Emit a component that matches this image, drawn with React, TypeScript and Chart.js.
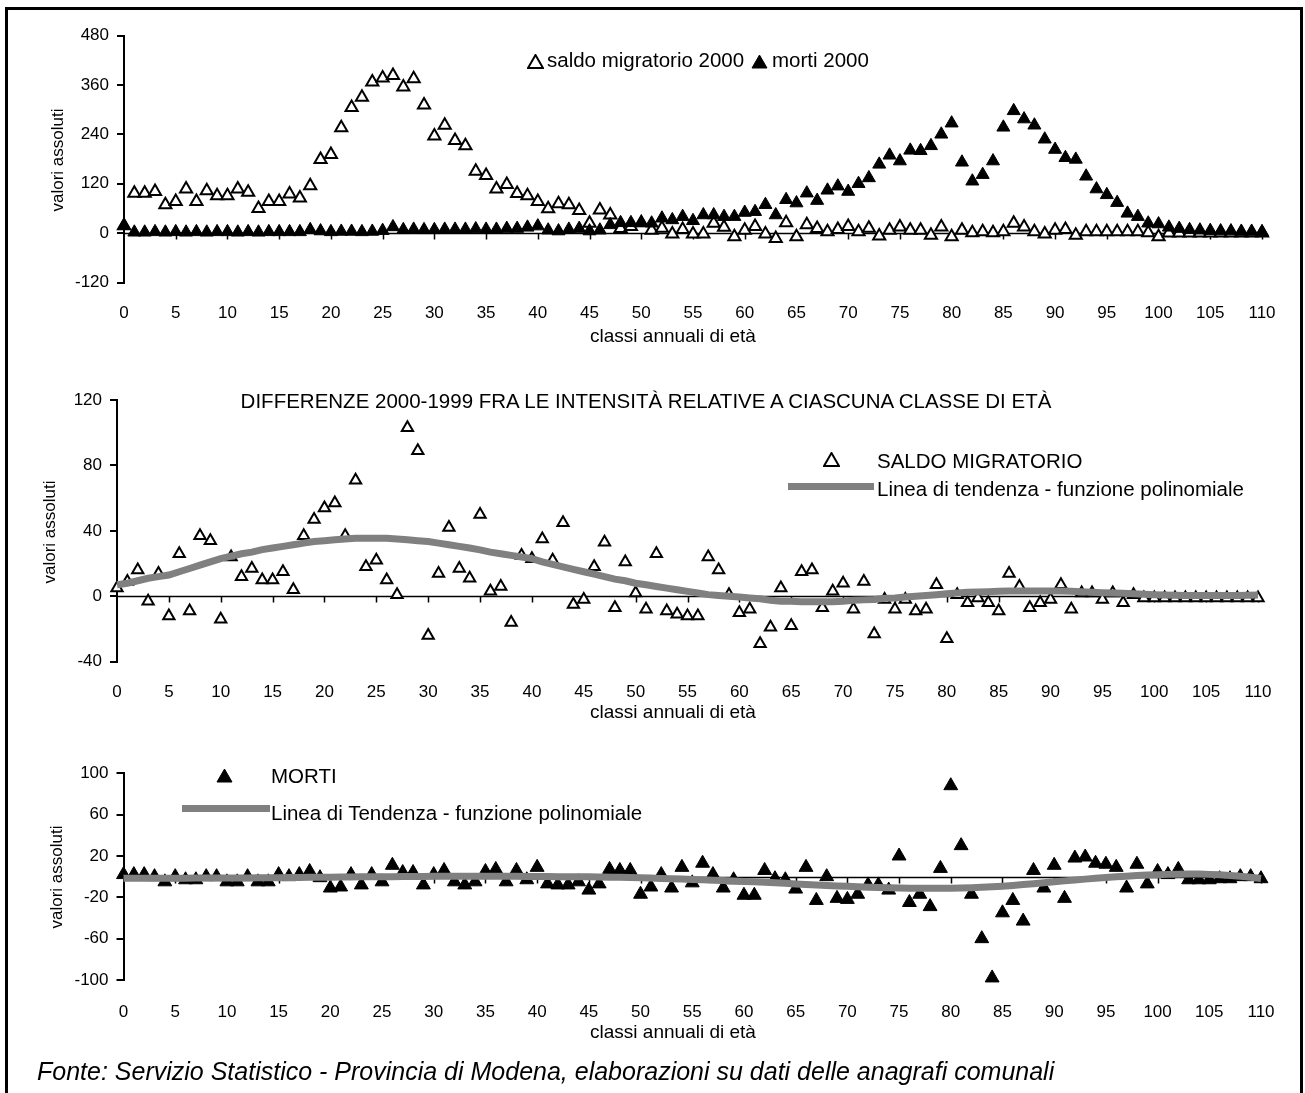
import React, { useEffect, useRef } from 'react';
import { Chart, registerables } from 'chart.js';

Chart.register(...registerables);

const FONT = '"Liberation Sans", Arial, Helvetica, sans-serif';

// age classes 0..110
const AGES: number[] = Array.from({ length: 111 }, (_, i) => i);

// Top panel: saldo migratorio 2000 (open triangles)
const SALDO_2000 = [
  18, 97, 97, 101, 69, 77, 107, 77, 103, 91, 91, 107, 99, 60, 77, 77, 95, 85, 115, 179,
  191, 256, 305, 330, 367, 377, 383, 355, 375, 311, 236, 262, 225, 212, 150, 140, 107, 118, 96, 91,
  77, 59, 71, 69, 55, 24, 56, 44, 11, 16, 25, 7, 12, -2, 9, -2, -2, 24, 14, -9,
  7, 16, -2, -13, 25, -9, 20, 11, 3, 9, 16, 3, 12, -7, 7, 15, 7, 7, -5, 15,
  -9, 7, 1, 3, 1, 3, 24, 15, 3, -2, 7, 9, -5, 3, 3, 3, 3, 3, 3, 1,
  -9, 0, 0, 0, 0, 0, 0, 0, 0, 0, 0,
];

// Top panel: morti 2000 (filled triangles)
const MORTI_2000 = [
  18, 2, 2, 3, 2, 3, 2, 3, 2, 3, 3, 2, 3, 2, 3, 3, 3, 3, 8, 5,
  3, 4, 4, 3, 4, 6, 15, 8, 9, 8, 8, 9, 9, 9, 10, 9, 9, 11, 11, 14,
  17, 7, 5, 9, 11, 5, 7, 20, 25, 25, 25, 24, 36, 32, 40, 30, 44, 44, 40, 40,
  50, 52, 69, 44, 81, 73, 97, 79, 104, 114, 101, 120, 134, 167, 189, 175, 201, 200, 212, 240,
  267, 172, 126, 142, 175, 257, 297, 277, 262, 228, 203, 183, 179, 138, 107, 93, 74, 48, 40, 24,
  22, 14, 11, 8, 7, 6, 5, 5, 4, 4, 3,
];

// Middle panel: differenze saldo migratorio 2000-1999
const DIFF_SALDO = [
  5, 9, 16, -3, 14, -12, 26, -9, 37, 34, -14, 24, 12, 17, 10, 10, 15, 4, 37, 47,
  54, 57, 37, 71, 18, 22, 10, 1, 103, 89, -24, 14, 42, 17, 11, 50, 3, 6, -16, 25,
  23, 35, 22, 45, -5, -2, 18, 33, -7, 21, 2, -8, 26, -9, -11, -12, -12, 24, 16, 1,
  -10, -8, -29, -19, 5, -18, 15, 16, -7, 3, 8, -8, 9, -23, -2, -8, -2, -9, -8, 7,
  -26, 1, -4, -1, -4, -9, 14, 6, -7, -4, -2, 7, -8, 2, 2, -2, 2, -4, 1, -1,
  -1, -1, -1, -1, -1, -1, -1, -1, -1, -1, -1,
];

// Middle panel: polynomial trend line
const DIFF_SALDO_TREND = [
  7, 8, 9.5, 11, 12, 13, 15, 17, 19, 21, 23, 24.5, 26, 27, 28.5, 29.5, 30.5, 31.5, 32.5, 33.5,
  34, 34.5, 35, 35.5, 35.5, 35.5, 35.5, 35, 34.5, 34, 33.5, 32.5, 31.5, 30.5, 29.5, 28.4, 27, 26, 25, 24,
  23, 21, 19.5, 18, 16.5, 15, 13.5, 12, 10.5, 9.5, 8, 7, 6, 5, 4, 3, 2, 1, 0.5, 0,
  -0.5, -1, -1.5, -2.5, -3, -3, -3.3, -3.3, -3.3, -3.3, -3, -2.5, -2.2, -2, -1.2, -1, -0.5, 0, 0.5, 1,
  1.5, 2, 2.4, 2.6, 2.8, 3, 3.2, 3.3, 3.3, 3.3, 3.3, 3.2, 3, 2.8, 2.5, 2.2, 2, 1.8, 1.5, 1.2,
  1, 0.8, 0.6, 0.5, 0.4, 0.4, 0.4, 0.4, 0.5, 0.6, 0.8,
];

// Bottom panel: differenze morti 2000-1999
const DIFF_MORTI = [
  2, 2, 2, 0, -5, 0, -3, -3, 0, 0, -5, -5, 0, -5, -5, 2, 0, 2, 5, -1,
  -11, -10, 2, -8, 2, -5, 11, 4, 4, -8, 2, 6, -5, -8, -5, 5, 7, -5, 6, -3,
  9, -7, -8, -8, -5, -13, -7, 7, 6, 6, -17, -10, 2, -11, 9, -6, 13, 2, -11, -3,
  -18, -18, 6, -2, -3, -12, 9, -23, 0, -21, -22, -17, -8, -8, -13, 20, -25, -17, -29, 8,
  88, 30, -17, -60, -98, -35, -23, -43, 6, -11, 11, -21, 18, 19, 13, 12, 9, -11, 12, -7,
  5, 2, 7, -3, -3, -3, -2, -2, 0, 0, -2,
];

// Bottom panel: polynomial trend line
const DIFF_MORTI_TREND = [
  -1.5, -1.5, -1.5, -1.5, -1.5, -1.5, -1.5, -1.4, -1.4, -1.3, -1.3, -1.2, -1.2, -1.1, -1, -1, -0.9, -0.8, -0.7, -0.6,
  -0.5, -0.4, -0.3, -0.2, -0.1, 0, 0, 0.1, 0.2, 0.2, 0.3, 0.3, 0.3, 0.3, 0.3, 0.3, 0.3, 0.3, 0.3, 0.2,
  0.2, 0.1, 0, 0, -0.1, -0.2, -0.3, -0.5, -0.7, -0.9, -1.1, -1.4, -1.7, -2, -2.3, -2.7, -3, -3.4, -3.8, -4.2,
  -4.6, -5, -5.5, -6, -6.5, -7, -7.5, -8, -8.5, -9, -9.4, -9.8, -10.2, -10.5, -10.8, -11, -11.2, -11.3, -11.3, -11.3,
  -11.2, -11, -10.7, -10.3, -9.8, -9.2, -8.5, -7.7, -6.9, -6, -5, -4.1, -3.2, -2.4, -1.6, -0.8, -0.1, 0.5, 1, 1.5,
  1.9, 2.2, 2.4, 2.5, 2.5, 2.2, 1.8, 1.2, 0.4, -0.6, -1.8,
];

const TOP_Y = [-120, 480, 120];
const MID_Y = [-40, 120, 40];
const BOT_Y = [-100, 100, 40];
const X_RANGE = [0, 110, 5];

const W = 1305;

const toXY = (vals: number[]) => AGES.map((a, i) => ({ x: a, y: vals[i] }));

const zeroLine = {
  id: 'zeroLine',
  beforeDatasetsDraw(chart: any) {
    const { ctx, chartArea, scales } = chart;
    const x = scales.x;
    const y = scales.y;
    const py = Math.round(y.getPixelForValue(0)) + 0.5;
    ctx.save();
    ctx.strokeStyle = '#000';
    ctx.lineWidth = 1.5;
    ctx.beginPath();
    ctx.moveTo(chartArea.left, py);
    ctx.lineTo(chartArea.right, py);
    for (let v = X_RANGE[0] + X_RANGE[2]; v <= X_RANGE[1]; v += X_RANGE[2]) {
      const px = Math.round(x.getPixelForValue(v)) + 0.5;
      ctx.moveTo(px, py);
      ctx.lineTo(px, py + 6);
    }
    ctx.stroke();
    ctx.restore();
  },
};

type PanelCfg = {
  top: number;
  height: number;
  area: { left: number; right: number; top: number; bottom: number };
  yr: number[];
  labelCenter: number;
  datasets: any[];
};

function buildChart(canvas: HTMLCanvasElement, cfg: PanelCfg) {
  const xH = 40;
  const padTop = cfg.area.top - cfg.top;
  const padRight = W - cfg.area.right;
  const padBottom = cfg.top + cfg.height - cfg.area.bottom - xH;
  const tickFont = { family: FONT, size: 17 };
  const xPad = cfg.labelCenter - cfg.area.bottom - 10.2;
  return new Chart(canvas, {
    type: 'scatter',
    data: { datasets: cfg.datasets },
    options: {
      responsive: false,
      animation: false,
      devicePixelRatio: 1,
      layout: { padding: { left: 0, top: padTop, right: padRight, bottom: padBottom } },
      plugins: { legend: { display: false }, tooltip: { enabled: false } },
      scales: {
        x: {
          type: 'linear',
          position: 'bottom',
          min: X_RANGE[0],
          max: X_RANGE[1],
          grid: { display: false, drawTicks: false },
          border: { display: false },
          ticks: {
            stepSize: X_RANGE[2],
            autoSkip: false,
            maxRotation: 0,
            padding: xPad,
            color: '#000',
            font: tickFont,
          },
          afterFit: (s: any) => {
            s.height = xH;
          },
        },
        y: {
          type: 'linear',
          position: 'left',
          min: cfg.yr[0],
          max: cfg.yr[1],
          grid: { display: true, drawOnChartArea: false, drawTicks: true, tickLength: 7, color: '#000', lineWidth: 2 },
          border: { display: true, color: '#000', width: 2 },
          ticks: { stepSize: cfg.yr[2], autoSkip: false, padding: 8, color: '#000', font: tickFont },
          afterFit: (s: any) => {
            s.width = cfg.area.left;
          },
        },
      },
    } as any,
    plugins: [zeroLine],
  });
}

const openTri = (r: number) => ({
  pointStyle: 'triangle',
  pointRadius: r,
  pointBackgroundColor: '#fff',
  pointBorderColor: '#000',
  pointBorderWidth: 2,
  showLine: false,
  clip: false,
});
const fullTri = (r: number) => ({
  pointStyle: 'triangle',
  pointRadius: r,
  pointBackgroundColor: '#000',
  pointBorderColor: '#000',
  pointBorderWidth: 1,
  showLine: false,
  clip: false,
});
const trend = {
  showLine: true,
  pointRadius: 0,
  borderColor: '#808080',
  borderWidth: 7,
  borderCapStyle: 'butt',
  tension: 0,
  clip: false,
};

const PANELS: PanelCfg[] = [
  {
    top: 0,
    height: 345,
    area: { left: 124, right: 1262, top: 35.5, bottom: 282.5 },
    yr: TOP_Y,
    labelCenter: 313,
    datasets: [
      { label: 'morti 2000', data: toXY(MORTI_2000), order: 0, ...fullTri(7.5) },
      { label: 'saldo migratorio 2000', data: toXY(SALDO_2000), order: 1, ...openTri(7) },
    ],
  },
  {
    top: 345,
    height: 385,
    area: { left: 117, right: 1258, top: 400, bottom: 661.7 },
    yr: MID_Y,
    labelCenter: 692,
    datasets: [
      { label: 'Linea di tendenza - funzione polinomiale', data: toXY(DIFF_SALDO_TREND), order: 0, ...trend },
      { label: 'SALDO MIGRATORIO', data: toXY(DIFF_SALDO), order: 1, ...openTri(6.5) },
    ],
  },
  {
    top: 730,
    height: 320,
    area: { left: 123.5, right: 1261, top: 773.3, bottom: 980 },
    yr: BOT_Y,
    labelCenter: 1012,
    datasets: [
      { label: 'Linea di Tendenza - funzione polinomiale', data: toXY(DIFF_MORTI_TREND), order: 0, ...trend },
      { label: 'MORTI', data: toXY(DIFF_MORTI), order: 1, ...fullTri(8) },
    ],
  },
];

const txt = (left: number, cy: number, size: number, extra: any = {}): React.CSSProperties => ({
  position: 'absolute',
  left,
  top: cy - size * 0.6,
  height: size * 1.2,
  lineHeight: `${size * 1.2}px`,
  fontSize: size,
  fontFamily: FONT,
  color: '#000',
  whiteSpace: 'nowrap',
  ...extra,
});

const centered = (cx: number, cy: number, size: number, extra: any = {}): React.CSSProperties =>
  txt(cx, cy, size, { transform: 'translateX(-50%)', ...extra });

const vertical = (cx: number, cy: number, size: number): React.CSSProperties => ({
  position: 'absolute',
  left: cx,
  top: cy,
  fontSize: size,
  lineHeight: `${size * 1.2}px`,
  fontFamily: FONT,
  color: '#000',
  whiteSpace: 'nowrap',
  transform: 'translate(-50%, -50%) rotate(-90deg)',
});

function Tri({ left, top, filled, w = 15, h = 13 }: { left: number; top: number; filled: boolean; w?: number; h?: number }) {
  return (
    <svg style={{ position: 'absolute', left, top }} width={w + 2} height={h + 2}>
      <polygon
        points={`${(w + 2) / 2},1 ${w + 1},${h + 1} 1,${h + 1}`}
        fill={filled ? '#000' : '#fff'}
        stroke="#000"
        strokeWidth={filled ? 1 : 2}
      />
    </svg>
  );
}

export default function App() {
  const r0 = useRef<HTMLCanvasElement>(null);
  const r1 = useRef<HTMLCanvasElement>(null);
  const r2 = useRef<HTMLCanvasElement>(null);

  useEffect(() => {
    const refs = [r0, r1, r2];
    const charts = PANELS.map((p, i) => buildChart(refs[i].current as HTMLCanvasElement, p));
    return () => charts.forEach((c) => c.destroy());
  }, []);

  const refs = [r0, r1, r2];
  const LEG = 20.5;
  const AX = 19;

  return (
    <div style={{ position: 'absolute', left: 0, top: 0, width: W, height: 1093, overflow: 'hidden', background: '#fff' }}>
      {PANELS.map((p, i) => (
        <canvas
          key={i}
          ref={refs[i]}
          width={W}
          height={p.height}
          style={{ position: 'absolute', left: 0, top: p.top, width: W, height: p.height }}
        />
      ))}

      {/* frame */}
      <div style={{ position: 'absolute', left: 5, top: 7, width: 1298, height: 1200, border: '3px solid #000', boxSizing: 'border-box' }} />

      {/* top panel */}
      <Tri left={527} top={54} filled={false} />
      <div style={txt(547, 60, LEG)}>saldo migratorio 2000</div>
      <Tri left={751} top={54} filled={true} />
      <div style={txt(772, 60, LEG)}>morti 2000</div>
      <div style={vertical(58, 160, 17)}>valori assoluti</div>
      <div style={centered(673, 336, AX)}>classi annuali di età</div>

      {/* middle panel */}
      <div style={centered(646, 401, LEG)}>DIFFERENZE 2000-1999 FRA LE INTENSITÀ RELATIVE A CIASCUNA CLASSE DI ETÀ</div>
      <Tri left={823} top={452} filled={false} />
      <div style={txt(877, 461, LEG)}>SALDO MIGRATORIO</div>
      <div style={{ position: 'absolute', left: 788, top: 483, width: 86, height: 7, background: '#808080' }} />
      <div style={txt(877, 489, LEG)}>Linea di tendenza - funzione polinomiale</div>
      <div style={vertical(50, 532, 17)}>valori assoluti</div>
      <div style={centered(673, 712, AX)}>classi annuali di età</div>

      {/* bottom panel */}
      <Tri left={216} top={768} filled={true} />
      <div style={txt(271, 776, LEG)}>MORTI</div>
      <div style={{ position: 'absolute', left: 182, top: 805, width: 88, height: 7, background: '#808080' }} />
      <div style={txt(271, 813, LEG)}>Linea di Tendenza - funzione polinomiale</div>
      <div style={vertical(57, 877, 17)}>valori assoluti</div>
      <div style={centered(673, 1032, AX)}>classi annuali di età</div>

      {/* source */}
      <div style={txt(37, 1071, 25, { fontStyle: 'italic' })}>
        Fonte: Servizio Statistico - Provincia di Modena, elaborazioni su dati delle anagrafi comunali
      </div>
    </div>
  );
}
